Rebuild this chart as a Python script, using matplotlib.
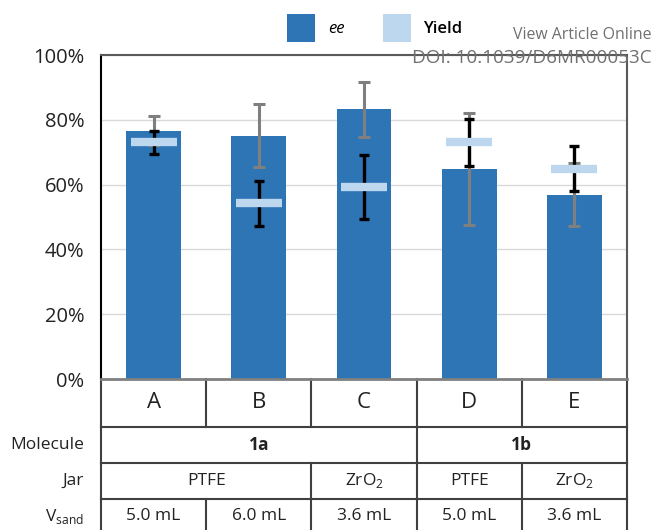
import itertools
import matplotlib
matplotlib.use('Agg')
import matplotlib.pyplot as plt
from matplotlib.patches import Patch

plt.rcParams['font.family'] = ['Open Sans', 'DejaVu Sans']
plt.rcParams['mathtext.fontset'] = 'custom'
plt.rcParams['mathtext.rm'] = 'Open Sans'

# Results per condition (percent)
conditions = ['A', 'B', 'C', 'D', 'E']
ee = [76.7, 75.1, 83.2, 64.8, 56.9]
ee_err = [4.5, 9.8, 8.5, 17.4, 9.8]
yields = [73.0, 54.2, 59.3, 73.0, 64.9]
yield_err = [3.5, 7.0, 9.8, 7.2, 7.0]

# Table rows under the chart
molecules = ['1a', '1a', '1a', '1b', '1b']
jars = ['PTFE', 'PTFE', 'ZrO$_2$', 'PTFE', 'ZrO$_2$']
v_sand = ['5.0 mL', '6.0 mL', '3.6 mL', '5.0 mL', '3.6 mL']

ee_color = '#2E75B6'
yield_color = '#BDD7EE'
line_color = '#404040'

fig = plt.figure(figsize=(6.53, 5.30), dpi=100)
ax = fig.add_axes([0.1547, 0.2849, 0.8055, 0.6113])

x = list(range(len(conditions)))
ee_f = [v / 100 for v in ee]
yield_f = [v / 100 for v in yields]

ax.bar(x, ee_f, width=0.52, color=ee_color, zorder=2)
ax.errorbar(x, ee_f, yerr=[e / 100 for e in ee_err], fmt='none',
            ecolor='#7F7F7F', elinewidth=2.2, capsize=4.5, capthick=2.2, zorder=3)
ax.errorbar(x, yield_f, yerr=[e / 100 for e in yield_err], fmt='none',
            ecolor='black', elinewidth=2.4, capsize=3.5, capthick=2.4, zorder=4)
ax.plot(x, yield_f, linestyle='none', marker='_', markersize=33,
        markeredgewidth=6, color=yield_color, zorder=5)

ax.set_xlim(-0.5, len(conditions) - 0.5)
ax.set_ylim(0, 1)
ax.set_yticks([0, 0.2, 0.4, 0.6, 0.8, 1.0])
ax.set_yticklabels(['0%', '20%', '40%', '60%', '80%', '100%'], fontsize=14.5, color='#222222')
ax.tick_params(axis='y', length=0, pad=12)
ax.set_xticks([])
ax.grid(axis='y', color='#D9D9D9', linewidth=1, zorder=0)
ax.set_axisbelow(True)
for side in ['top', 'right']:
    ax.spines[side].set_color('#595959')
    ax.spines[side].set_linewidth(1.5)
ax.spines['left'].set_color('black')
ax.spines['left'].set_linewidth(1.5)
ax.spines['bottom'].set_color('#808080')
ax.spines['bottom'].set_linewidth(2)

# Table drawn below the axis, y in axis units (0..1 = 0..100%)
rows = [
    (None, [c for c in conditions], -0.148, 16, 'normal'),
    ('Molecule', molecules, -0.259, 12.5, 'bold'),
    ('Jar', jars, -0.370, 12.5, 'normal'),
    (r'V$_{\mathrm{sand}}$', v_sand, -0.48, 12.5, 'normal'),
]
left, right = -0.5, len(conditions) - 0.5
top = 0
for label, cells, bottom, size, weight in rows:
    if bottom > -0.47:
        ax.plot([left, right], [bottom, bottom], color=line_color, lw=1.5, clip_on=False)
    ax.plot([left, left], [top, bottom], color=line_color, lw=1.5, clip_on=False)
    ax.plot([right, right], [top, bottom], color=line_color, lw=1.5, clip_on=False)
    start = 0
    mid = (top + bottom) / 2 if bottom > -0.47 else -0.424
    for text, grp in itertools.groupby(cells):
        n = len(list(grp))
        end = start + n
        ax.text((start + end - 1) / 2, mid, text, ha='center', va='center',
                fontsize=size, fontweight=weight, color='#222222', clip_on=False)
        if end < len(cells):
            ax.plot([end - 0.5, end - 0.5], [top, bottom], color=line_color,
                    lw=1.5, clip_on=False)
        start = end
    if label:
        ax.text(-0.66, mid, label, ha='right', va='center', fontsize=12.5,
                color='#222222', clip_on=False)
    top = bottom

handles = [Patch(facecolor=ee_color), Patch(facecolor=yield_color)]
leg = fig.legend(handles, ['ee', 'Yield'], loc='center', bbox_to_anchor=(0.574, 0.947),
                 ncol=2, frameon=False, fontsize=12, handlelength=1.7, handleheight=2.2,
                 handletextpad=0.75, columnspacing=2.3)
leg.get_texts()[0].set_style('italic')
leg.get_texts()[1].set_weight('semibold')

fig.text(0.998, 0.934, 'View Article Online', ha='right', va='center',
         fontsize=11.4, color='#707070')
fig.text(0.998, 0.891, 'DOI: 10.1039/D6MR00053C', ha='right', va='center',
         fontsize=13.6, color='#707070')

fig.savefig('out.png', dpi=100)
